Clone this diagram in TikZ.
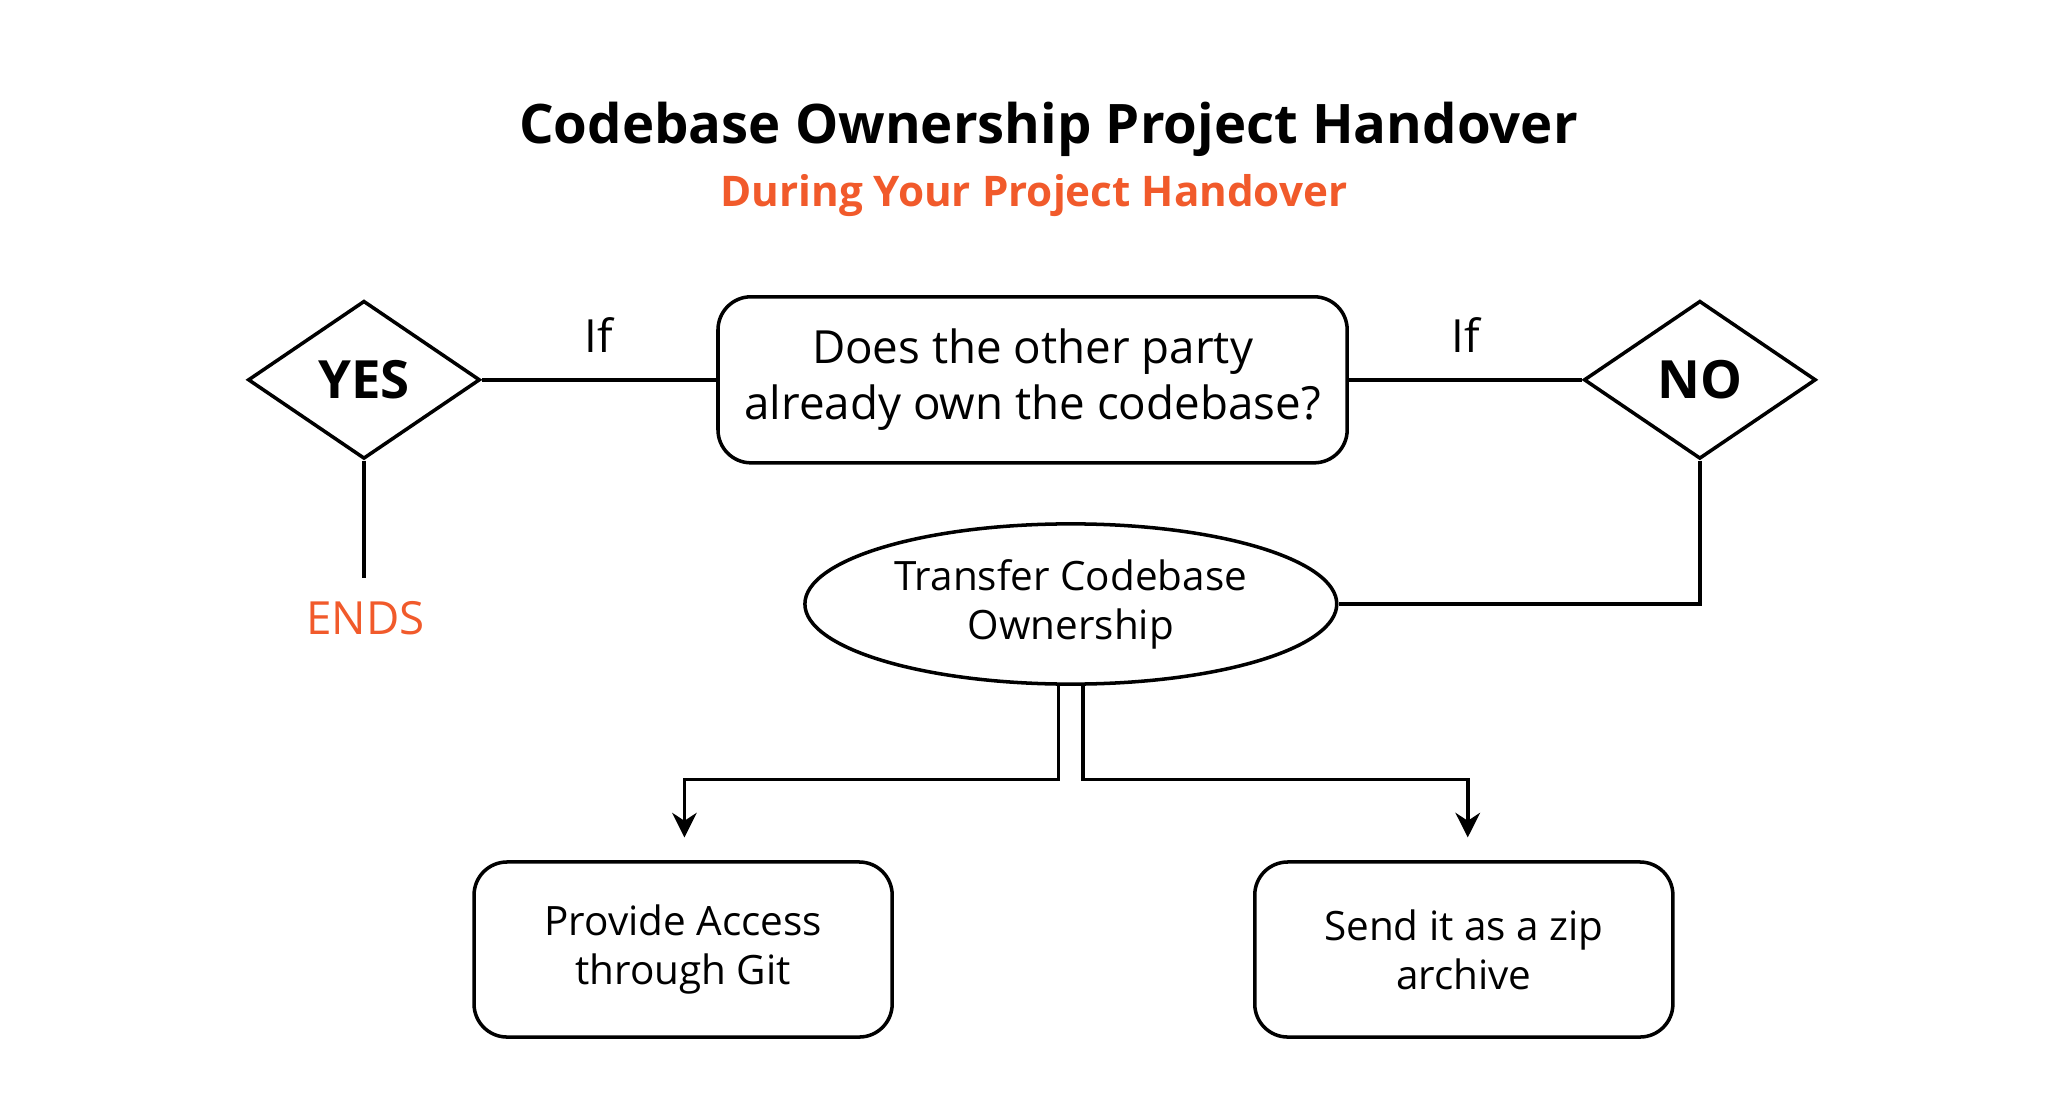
\documentclass[tikz,border=0pt]{standalone}
\usepackage{fontspec}
\setmainfont{Open Sans}
\usepackage{xcolor}
\usetikzlibrary{arrows.meta, positioning, shapes.geometric}
\definecolor{handorange}{HTML}{F15A2B}

\begin{document}
\begin{tikzpicture}[
	x=0.013188cm, y=-0.013188cm,
	every path/.style={line width=1pt},
	roundbox/.style={draw, rounded corners=0.33cm, align=center, font=\fontsize{11.5}{14}\selectfont},
	choice/.style={draw, diamond, inner sep=0pt, minimum width=2.32cm, minimum height=1.58cm, font=\fontsize{15}{18}\selectfont\bfseries},
	flow/.style={-{Stealth[length=7pt, width=7pt]}}
]
	% Rahmen
	\useasboundingbox (0,0) rectangle (1553,836);
	% Titel
	\node[font=\fontsize{15.5}{18}\selectfont\bfseries] (title) at (795,98) {Codebase Ownership Project Handover};
	\node[font=\fontsize{12}{14}\selectfont\bfseries, text=handorange] (subtitle) at (784,148) {During Your Project Handover};
	% Frage
	\node[
		roundbox,
		minimum width=6.29cm,
		minimum height=1.66cm,
		font=\fontsize{13}{16}\selectfont
	] (question) at (783,288) {Does the other party\\already own the codebase?};
	% Antworten
	\node[choice] (yes) at (276,288) {YES};
	\node[choice] (no) at (1289,288) {NO};
	\draw (yes.east) -- node[above=4pt, font=\fontsize{13}{16}\selectfont] (ifyes) {If} (question.west);
	\draw (question.east) -- node[above=4pt, font=\fontsize{13}{16}\selectfont] (ifno) {If} (no.west);
	% Ende
	\node[font=\fontsize{13}{16}\selectfont, text=handorange] (ends) at (277,469) {ENDS};
	\coordinate (endtop) at (276,438);
	\draw (yes.south) -- (endtop);
	% Transfer
	\node[
		draw,
		ellipse,
		minimum width=5.14cm,
		minimum height=1.37cm,
		align=center,
		font=\fontsize{11.5}{14}\selectfont
	] (transfer) at (812,458) {Transfer Codebase\\Ownership};
	\draw (no.south) |- (transfer.east);
	% Wege
	\node[roundbox, minimum width=4.18cm, minimum height=1.75cm] (git) at (518,720) {Provide Access\\through Git};
	\node[roundbox, minimum width=4.18cm, minimum height=1.75cm] (zip) at (1110,720) {Send it as a zip\\archive};
	\coordinate (splitl) at ([xshift=-3.5\pgflinewidth]transfer.south);
	\coordinate (splitr) at ([xshift=3.5\pgflinewidth]transfer.south);
	\coordinate (gittop) at (519,635);
	\coordinate (ziptop) at (1113,635);
	\draw[flow] (splitl) -- ++(0,71) -| (gittop);
	\draw[flow] (splitr) -- ++(0,71) -| (ziptop);
\end{tikzpicture}
\end{document}
